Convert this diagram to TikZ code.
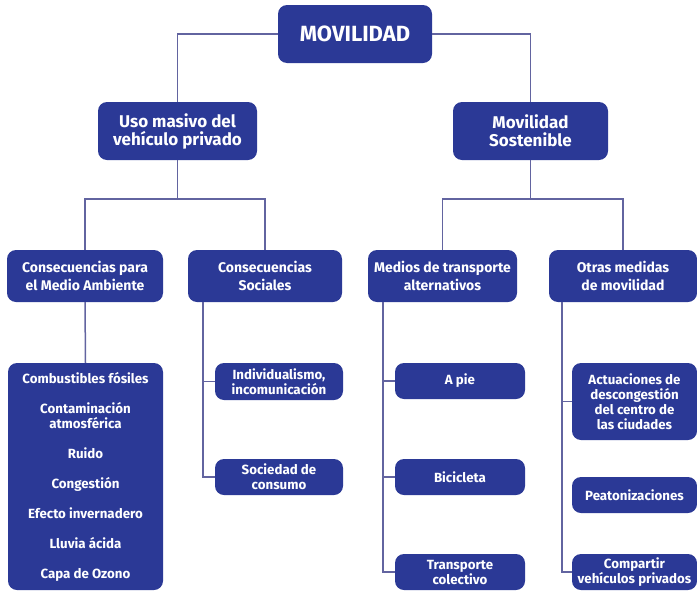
\documentclass[tikz,border=0pt]{standalone}
\usepackage{fontspec}
\setmainfont{Fira Sans}
\definecolor{azul}{RGB}{43,57,150}
\definecolor{linea}{RGB}{98,100,160}

\begin{document}
\begin{tikzpicture}[x=1pt, y=-1pt,
    caja/.style={fill=azul, text=white, rounded corners=9pt, inner sep=0pt, align=center,
      font=\bfseries\fontsize{14}{18}\selectfont},
    chica/.style={caja, font=\bfseries\fontsize{13.3}{15}\selectfont},
    enlace/.style={draw=linea, line width=1.5pt}]
  %tikz  Mapa conceptual, movilidad
    \useasboundingbox (0,0) rectangle (697,592);
    \node[caja, minimum width=154pt, minimum height=58pt, font=\bfseries\fontsize{22}{24}\selectfont] (mov) at (355,34) {MOVILIDAD};
    \node[caja, minimum width=159pt, minimum height=58pt, font=\bfseries\fontsize{17}{18}\selectfont] (uso) at (177.5,131) {Uso masivo del\\vehículo privado};
    \node[caja, minimum width=155pt, minimum height=58pt, font=\bfseries\fontsize{17}{18}\selectfont] (sos) at (530.5,131) {Movilidad\\Sostenible};
    \node[caja, minimum width=156pt, minimum height=52pt] (cma) at (85,276) {Consecuencias para\\el Medio Ambiente};
    \node[caja, minimum width=154pt, minimum height=52pt] (cso) at (265,276) {Consecuencias\\Sociales};
    \node[caja, minimum width=149pt, minimum height=52pt] (med) at (442.5,276) {Medios de transporte\\alternativos};
    \node[caja, minimum width=148pt, minimum height=52pt] (otr) at (623,276) {Otras medidas\\de movilidad};
    \node[chica, minimum width=155pt, minimum height=227pt] (big) at (85.5,476.5) {Combustibles fósiles\\[15pt]
      Contaminación\\atmosférica\\[15pt] Ruido\\[15pt] Congestión\\[15pt] Efecto invernadero\\[15pt]
      Lluvia ácida\\[15pt] Capa de Ozono};
    \node[chica, minimum width=128pt, minimum height=37pt] (ind) at (279,381.5) {Individualismo,\\incomunicación};
    \node[chica, minimum width=128pt, minimum height=36pt] (soc) at (279,477) {Sociedad de\\consumo};
    \node[chica, minimum width=130pt, minimum height=36pt] (pie) at (460,381) {A pie};
    \node[chica, minimum width=130pt, minimum height=36pt] (bic) at (460,477) {Bicicleta};
    \node[chica, minimum width=130pt, minimum height=36pt] (tra) at (460,572) {Transporte\\colectivo};
    \node[chica, minimum width=125pt, minimum height=77pt] (act) at (634.5,401.5) {Actuaciones de\\descongestión\\del centro de\\las ciudades};
    \node[chica, minimum width=125pt, minimum height=36pt] (pea) at (634.5,495) {Peatonizaciones};
    \node[chica, minimum width=125pt, minimum height=36pt] (com) at (634.5,572) {Compartir\\vehículos privados};

    \draw[enlace] (mov.west) -| (uso.north);
    \draw[enlace] (mov.east) -| (sos.north);
    \draw[enlace] (uso.south) -- ++(0,39) -| (cma.north);
    \draw[enlace] (uso.south) -- ++(0,39) -| (cso.north);
    \draw[enlace] (sos.south) -- ++(0,39) -| (med.north);
    \draw[enlace] (sos.south) -- ++(0,39) -| (otr.north);
    \draw[enlace] (cma.south) -- (big.north);
    \draw[enlace] ([xshift=-62pt]cso.south) |- (ind.west);
    \draw[enlace] ([xshift=-62pt]cso.south) |- (soc.west);
    \draw[enlace] ([xshift=-59.5pt]med.south) |- (pie.west);
    \draw[enlace] ([xshift=-59.5pt]med.south) |- (bic.west);
    \draw[enlace] ([xshift=-59.5pt]med.south) |- (tra.west);
    \draw[enlace] ([xshift=-61pt]otr.south) |- (act.west);
    \draw[enlace] ([xshift=-61pt]otr.south) |- (com.west);
  \end{tikzpicture}
\end{document}
